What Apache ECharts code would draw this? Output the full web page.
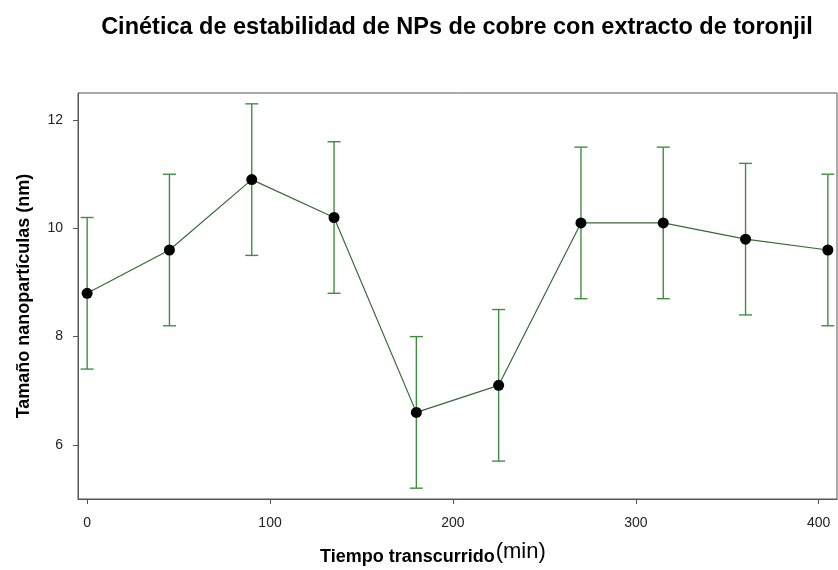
<!DOCTYPE html>
<html><head><meta charset="utf-8">
<script src="https://cdn.jsdelivr.net/npm/echarts@6/dist/echarts.min.js"></script>
<style>html,body{margin:0;padding:0;background:#fff}#c{width:838px;height:570px}</style>
</head><body><div id="c"></div>
<script>
const times = [0, 45, 90, 135, 180, 225, 270, 315, 360, 405];
const sizes = [8.8, 9.6, 10.9, 10.2, 6.6, 7.1, 10.1, 10.1, 9.8, 9.6];
const lower = [7.4, 8.2, 9.5, 8.8, 5.2, 5.7, 8.7, 8.7, 8.4, 8.2];
const upper = [10.2, 11.0, 12.3, 11.6, 8.0, 8.5, 11.5, 11.5, 11.2, 11.0];
const xTicks = [0, 100, 200, 300, 400];
const yTicks = [6, 8, 10, 12];
const titleText = 'Cinética de estabilidad de NPs de cobre con extracto de toronjil';
const yName = 'Tamaño nanopartículas (nm)';
const xNameBold = 'Tiempo transcurrido';
const xNameUnit = '(min)';

const chart = echarts.init(document.getElementById('c'));
const FONT = '"Liberation Sans", Arial, sans-serif';
chart.setOption({
  animation: false,
  backgroundColor: '#fff',
  textStyle: { fontFamily: FONT },
  title: {
    text: titleText, left: 452, top: 11, textAlign: 'center',
    textStyle: { fontFamily: FONT, fontSize: 23.5, fontWeight: 'bold', color: '#000' }
  },
  graphic: [{
    type: 'text', left: 320, top: 541, z: 10,
    style: {
      text: '{a|' + xNameBold + '}{b|' + xNameUnit + '}',
      rich: {
        a: { fontFamily: FONT, fontSize: 18, fontWeight: 'bold', fill: '#000', padding: [6, 1, 0, 0] },
        b: { fontFamily: FONT, fontSize: 22, fill: '#000', padding: [0, 0, 4, 0] }
      }
    }
  }],
  grid: { left: 78, right: 1, top: 93, bottom: 71, show: true, borderColor: '#555', borderWidth: 1, containLabel: false },
  xAxis: {
    type: 'value', min: -5, max: 410,
    axisLine: { show: true, onZero: false, lineStyle: { color: '#555', width: 1 } },
    axisTick: { show: true, length: 5, customValues: xTicks, lineStyle: { color: '#555' } },
    axisLabel: { customValues: xTicks, fontSize: 14, color: '#222', margin: 17 },
    splitLine: { show: false }
  },
  yAxis: {
    type: 'value', min: 5, max: 12.5,
    name: yName, nameLocation: 'middle', nameGap: 45,
    nameTextStyle: { fontFamily: FONT, fontSize: 18, fontWeight: 'bold', color: '#000' },
    axisLine: { show: true, onZero: false, lineStyle: { color: '#555', width: 1 } },
    axisTick: { show: true, length: 5, customValues: yTicks, lineStyle: { color: '#555' } },
    axisLabel: { customValues: yTicks, fontSize: 14, color: '#222', margin: 15 },
    splitLine: { show: false }
  },
  series: [
    {
      type: 'custom', z: 1,
      data: times.map((t, i) => [t, lower[i], upper[i]]),
      renderItem: function (params, api) {
        const lo = api.coord([api.value(0), api.value(1)]);
        const hi = api.coord([api.value(0), api.value(2)]);
        const w = 6.5;
        const st = { stroke: '#3f8f3f', lineWidth: 1.4 };
        return {
          type: 'group',
          children: [
            { type: 'line', shape: { x1: hi[0], y1: hi[1], x2: lo[0], y2: lo[1] }, style: st },
            { type: 'line', shape: { x1: hi[0] - w, y1: hi[1], x2: hi[0] + w, y2: hi[1] }, style: st },
            { type: 'line', shape: { x1: lo[0] - w, y1: lo[1], x2: lo[0] + w, y2: lo[1] }, style: st }
          ]
        };
      }
    },
    {
      type: 'line', z: 3,
      data: times.map((t, i) => [t, sizes[i]]),
      symbol: 'circle', symbolSize: 11,
      itemStyle: { color: '#000' },
      lineStyle: { color: '#356b35', width: 1.2 }
    }
  ]
});
</script></body></html>
